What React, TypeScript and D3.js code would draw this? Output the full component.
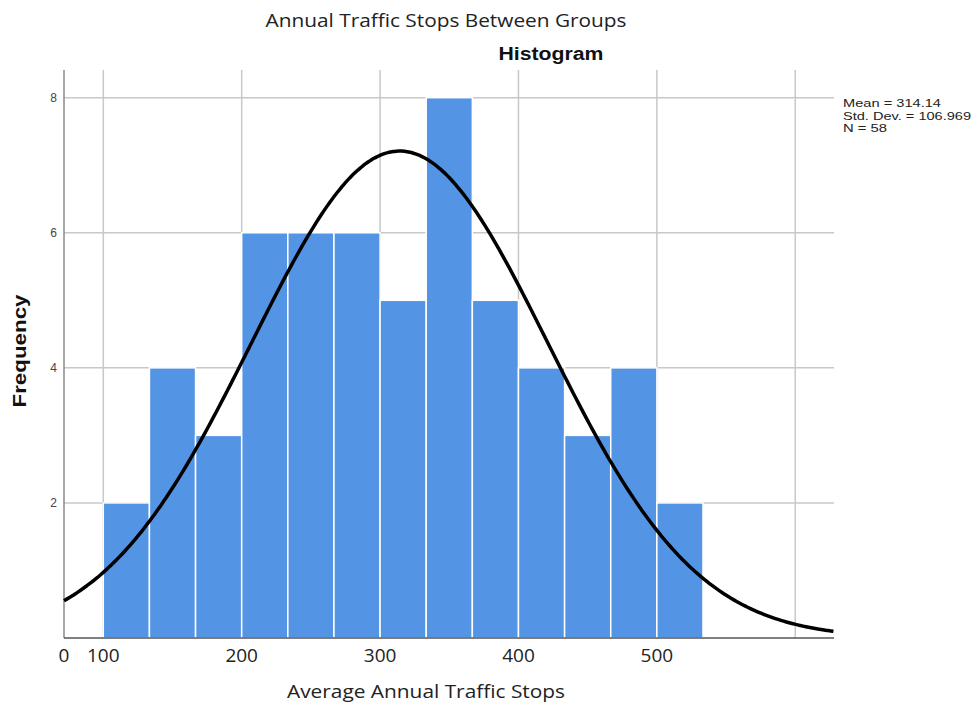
import React, { useEffect } from "react"
import * as d3 from "d3"

// histogram counts, one per bin (bins start at 100, width 100/3)
const counts = [2, 4, 3, 6, 6, 6, 5, 8, 5, 4, 3, 4, 2]
const binStart = 100
const binWidth = 100 / 3

// fitted normal stats shown in the legend
const mean = 314.14
const stdDev = 106.969
const n = 58

const gridX = [100, 200, 300, 400, 500, 600]
const gridY = [2, 4, 6, 8]
const xTickLabels = ["0", "100", "200", "300", "400", "500"]

const W = 978
const H = 706
const plot = { left: 64, right: 834, top: 70, bottom: 638 }

const App = () => {
	useEffect(() => {
		document.body.style.margin = "0"
	}, [])

	const x = d3.scaleLinear().domain([71.6, 628]).range([plot.left, plot.right])
	const y = d3.scaleLinear().domain([0, 8.41]).range([plot.bottom, plot.top])

	// x tick positions: the first label sits on the axis origin
	const xTickValues = [x.domain()[0], ...gridX.slice(0, 5)]

	const scaleFactor = n * binWidth
	const normal = (v) =>
		(scaleFactor / (stdDev * Math.sqrt(2 * Math.PI))) *
		Math.exp(-0.5 * ((v - mean) / stdDev) ** 2)
	const curvePts = d3.range(x.domain()[0], x.domain()[1] + 0.5, 2).map((v) => [v, normal(v)])
	const line = d3
		.line()
		.x((d) => x(d[0]))
		.y((d) => y(d[1]))
		.curve(d3.curveBasis)

	const stats = [
		{ label: `Mean = ${mean}`, len: 98 },
		{ label: `Std. Dev. = ${stdDev}`, len: 128 },
		{ label: `N = ${n}`, len: 44 },
	]

	return (
		<svg width={W} height={H} style={{ display: "block" }}>
			<rect width={W} height={H} fill="#fff" />
			<text
				x={446}
				y={27}
				textAnchor="middle"
				fontFamily="Open Sans"
				fontSize={19}
				fill="#222"
				textLength={361}
				lengthAdjust="spacingAndGlyphs"
			>
				Annual Traffic Stops Between Groups
			</text>
			<text
				x={551}
				y={60}
				textAnchor="middle"
				fontFamily="Liberation Sans, Arial"
				fontWeight="bold"
				fontSize={18}
				fill="#111"
				textLength={105}
				lengthAdjust="spacingAndGlyphs"
			>
				Histogram
			</text>

			{/* grid */}
			<g stroke="#c8c8c8" strokeWidth={1.5}>
				{gridX.map((v) => (
					<line key={"gx" + v} x1={x(v)} x2={x(v)} y1={plot.top} y2={plot.bottom} />
				))}
				{gridY.map((v) => (
					<line key={"gy" + v} x1={plot.left} x2={plot.right} y1={y(v)} y2={y(v)} />
				))}
			</g>

			{/* bars */}
			<g fill="#5494e4" stroke="#fff" strokeWidth={1.5}>
				{counts.map((c, i) => {
					const x0 = binStart + i * binWidth
					return (
						<rect
							key={i}
							x={x(x0)}
							y={y(c)}
							width={x(x0 + binWidth) - x(x0)}
							height={y(0) - y(c)}
						/>
					)
				})}
			</g>

			{/* axes */}
			<line x1={plot.left} x2={plot.left} y1={plot.top} y2={plot.bottom} stroke="#8a8a8a" strokeWidth={1.5} />
			<line x1={plot.left} x2={plot.right} y1={plot.bottom} y2={plot.bottom} stroke="#555" strokeWidth={1.5} />

			{/* normal curve */}
			<path d={line(curvePts)} fill="none" stroke="#000" strokeWidth={3.5} />

			{/* y ticks */}
			{gridY.map((v) => (
				<text
					key={"ty" + v}
					x={57}
					y={y(v)}
					dy="0.35em"
					textAnchor="end"
					fontFamily="Liberation Sans, Arial"
					fontSize={12}
					fill="#444"
				>
					{v}
				</text>
			))}

			{/* x ticks */}
			{xTickValues.map((v, i) => (
				<text
					key={"tx" + i}
					x={x(v)}
					y={662}
					textAnchor="middle"
					fontFamily="Open Sans"
					fontSize={19}
					fill="#222"
				>
					{xTickLabels[i]}
				</text>
			))}

			<text
				x={426}
				y={698}
				textAnchor="middle"
				fontFamily="Open Sans"
				fontSize={19}
				fill="#222"
				textLength={278}
				lengthAdjust="spacingAndGlyphs"
			>
				Average Annual Traffic Stops
			</text>

			<text
				transform="translate(26,351) rotate(-90)"
				textAnchor="middle"
				fontFamily="Liberation Sans, Arial"
				fontWeight="bold"
				fontSize={19}
				fill="#111"
				textLength={113}
				lengthAdjust="spacingAndGlyphs"
			>
				Frequency
			</text>

			<g fontFamily="Liberation Sans, Arial" fontSize={10.5} fill="#222">
				{stats.map((s, i) => (
					<text
						key={s.label}
						x={843}
						y={107 + i * 12.5}
						textLength={s.len}
						lengthAdjust="spacingAndGlyphs"
					>
						{s.label}
					</text>
				))}
			</g>
		</svg>
	)
}

export default App
